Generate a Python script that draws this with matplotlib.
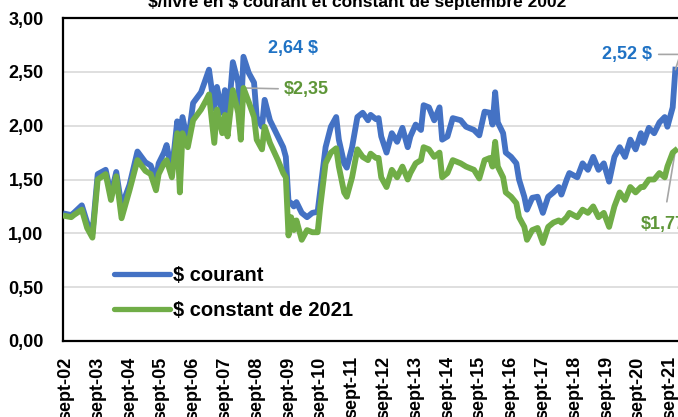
import matplotlib
matplotlib.use("Agg")
import matplotlib.pyplot as plt
from matplotlib import font_manager

# mois depuis sept-02 et prix ($/livre)
mois = [0, 2, 3, 6, 8, 10, 12, 15, 17, 19, 21, 24, 27, 30, 32, 34, 35, 37, 38, 40,
        42, 43, 44, 46, 48, 51, 53, 54, 56, 57, 59, 60, 61, 63, 65, 66, 67, 69, 71, 72,
        74, 75, 77, 80, 82, 83, 84, 85, 86, 87, 89, 91, 93, 95, 96, 98, 100, 102, 103, 105,
        106, 108, 110, 112, 114, 115, 117, 118, 119, 121, 123, 125, 127, 129, 130, 132, 134, 135, 137, 139,
        141, 142, 144, 146, 149, 151, 154, 156, 158, 160, 161, 162, 163, 165, 166, 168, 170, 171, 173, 174,
        176, 178, 180, 182, 184, 186, 187, 189, 190, 193, 195, 197, 199, 201, 203, 205, 207, 209, 211, 213,
        215, 217, 218, 220, 222, 224, 226, 227, 229, 230]

courant = [1.18, 1.17, 1.19, 1.26, 1.10, 1.00, 1.55, 1.59, 1.36, 1.57, 1.25, 1.45, 1.76, 1.66, 1.63, 1.50, 1.65, 1.75, 1.82, 1.58,
           2.04, 1.85, 2.08, 1.84, 2.21, 2.31, 2.45, 2.52, 2.16, 2.36, 2.12, 2.33, 1.99, 2.59, 2.40, 2.08, 2.64, 2.49, 2.40, 2.08,
           1.99, 2.24, 2.05, 1.90, 1.80, 1.71, 1.30, 1.28, 1.25, 1.29, 1.19, 1.15, 1.19, 1.20, 1.40, 1.80, 1.99, 2.08, 1.87, 1.65,
           1.61, 1.80, 2.08, 2.12, 2.05, 2.10, 2.06, 2.07, 1.90, 1.75, 1.93, 1.85, 1.98, 1.80, 1.90, 2.01, 1.96, 2.19, 2.17, 2.05,
           2.17, 1.87, 1.90, 2.07, 2.05, 1.99, 1.96, 1.91, 2.13, 2.12, 2.01, 2.31, 2.03, 1.93, 1.75, 1.71, 1.65, 1.50, 1.34, 1.22,
           1.33, 1.34, 1.19, 1.34, 1.38, 1.43, 1.36, 1.50, 1.56, 1.52, 1.65, 1.59, 1.71, 1.59, 1.65, 1.48, 1.71, 1.80, 1.71, 1.87,
           1.78, 1.93, 1.84, 1.98, 1.93, 2.03, 2.08, 1.99, 2.17, 2.52]

constant = [1.16, 1.15, 1.17, 1.22, 1.05, 0.96, 1.50, 1.55, 1.31, 1.53, 1.14, 1.40, 1.68, 1.58, 1.55, 1.40, 1.55, 1.65, 1.68, 1.52,
            1.93, 1.38, 1.93, 1.80, 2.05, 2.15, 2.24, 2.29, 1.84, 2.15, 1.93, 2.10, 1.90, 2.33, 2.12, 1.87, 2.35, 2.22, 2.08, 1.87,
            1.78, 1.99, 1.84, 1.68, 1.56, 1.52, 0.98, 1.15, 1.03, 1.12, 0.94, 1.03, 1.01, 1.01, 1.25, 1.65, 1.75, 1.79, 1.62, 1.38,
            1.34, 1.52, 1.78, 1.71, 1.68, 1.74, 1.70, 1.70, 1.52, 1.43, 1.59, 1.52, 1.62, 1.50, 1.56, 1.65, 1.68, 1.80, 1.78, 1.71,
            1.75, 1.52, 1.56, 1.68, 1.65, 1.62, 1.59, 1.51, 1.68, 1.70, 1.62, 1.85, 1.62, 1.52, 1.38, 1.34, 1.28, 1.15, 1.06, 0.94,
            1.03, 1.05, 0.91, 1.06, 1.10, 1.12, 1.10, 1.15, 1.19, 1.15, 1.22, 1.19, 1.25, 1.15, 1.19, 1.06, 1.25, 1.38, 1.31, 1.43,
            1.38, 1.43, 1.43, 1.50, 1.50, 1.56, 1.52, 1.62, 1.75, 1.77]

annees = list(range(2002, 2022))
etiquettes = [f"sept-{a % 100:02d}" for a in annees]
yticks = [0, 0.5, 1.0, 1.5, 2.0, 2.5, 3.0]

BLEU = '#4472C4'
VERT = '#70AD47'
TXT_BLEU = '#1F72C4'
TXT_VERT = '#5E9638'

noms = {f.name for f in font_manager.fontManager.ttflist}
police = 'Liberation Sans Narrow' if 'Liberation Sans Narrow' in noms else 'Liberation Sans'
plt.rcParams['font.family'] = [police, 'DejaVu Sans']
plt.rcParams['font.weight'] = 'bold'

fig = plt.figure(figsize=(6.78, 4.17), dpi=100)
ax = fig.add_axes([63 / 678, 76 / 417, 615 / 678, 323 / 417])

ax.plot(mois, courant, color=BLEU, lw=4.2, solid_joinstyle='round', label=r'\$ courant', zorder=3)
ax.plot(mois, constant, color=VERT, lw=4.2, solid_joinstyle='round', label=r'\$ constant de 2021', zorder=4)

ax.set_xlim(-1.1, 231)
ax.set_ylim(0, 3.0)
ax.set_yticks(yticks)
ax.set_yticklabels([f"{v:.2f}".replace('.', ',') for v in yticks], fontsize=13, fontweight='bold')
ax.set_xticks([12 * i for i in range(len(annees))])
ax.set_xticklabels(etiquettes, rotation=90, fontsize=13, fontweight='bold', va='top')
ax.tick_params(axis='both', length=0)
ax.tick_params(axis='y', pad=14)
ax.tick_params(axis='x', pad=11)

ax.grid(axis='y', color='#D9D9D9', lw=1.2, zorder=0)
ax.set_axisbelow(True)
for s in ['left', 'bottom', 'top']:
    ax.spines[s].set_linewidth(1.6)
    ax.spines[s].set_color('black')
ax.spines['right'].set_visible(False)

leg = ax.legend(loc='lower left', bbox_to_anchor=(0.066, 0.035), frameon=False, borderpad=0,
                prop={'size': 14.5, 'weight': 'bold'}, handlelength=2.8, handletextpad=0.15,
                labelspacing=0.78)
for h in leg.get_lines():
    h.set_linewidth(3.8)
    h.set_solid_capstyle('round')

# annotations
i_max = courant.index(max(courant))
ax.annotate(r'2,64 \$', xy=(mois[i_max], courant[i_max]), xytext=(18, 6), textcoords='offset points',
            color=TXT_BLEU, fontsize=13, fontweight='bold', ha='left', va='center')
ax.annotate(r'\$2,35', xy=(mois[i_max], constant[i_max]), xytext=(29, -1), textcoords='offset points',
            color=TXT_VERT, fontsize=13, fontweight='bold', ha='left', va='center',
            arrowprops=dict(arrowstyle='-', color='#A6A6A6', lw=1.2, shrinkA=2, shrinkB=0))
ax.annotate(r'2,52 \$', xy=(mois[-1], courant[-1]), xytext=(-17, 11), textcoords='offset points',
            color=TXT_BLEU, fontsize=13, fontweight='bold', ha='right', va='center',
            arrowprops=dict(arrowstyle='-', color='#A6A6A6', lw=1.2, shrinkA=3, shrinkB=0,
                            connectionstyle='angle,angleA=0,angleB=72,rad=0'))
ax.annotate(r'\$1,77', xy=(mois[-1], constant[-1]), xytext=(-25, -53), textcoords='offset points',
            color=TXT_VERT, fontsize=13, fontweight='bold', ha='left', va='center',
            arrowprops=dict(arrowstyle='-', color='#A6A6A6', lw=1.2, shrinkA=8, shrinkB=0))

fig.text(0.527, 0.993, r'\$/livre en \$ courant et constant de septembre 2002', ha='center', va='center',
         fontsize=12.5, fontweight='bold')

fig.savefig('out.png', dpi=100)
